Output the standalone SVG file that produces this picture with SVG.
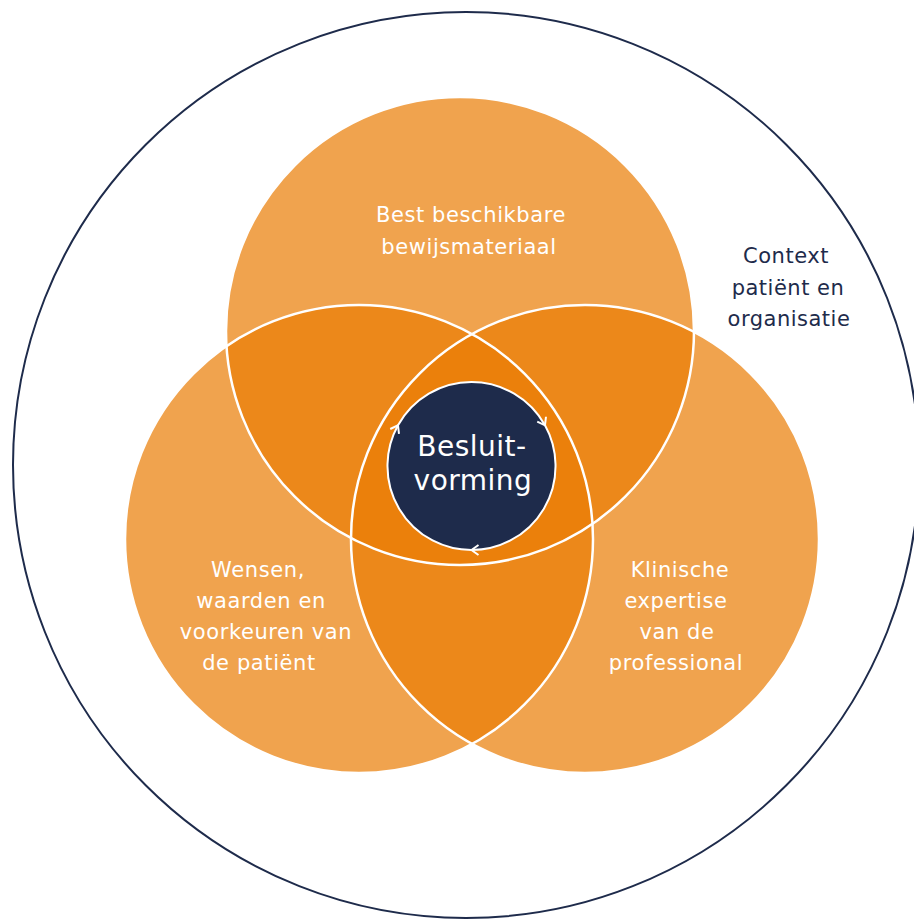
<svg xmlns="http://www.w3.org/2000/svg" width="914" height="919" viewBox="0 0 914 919">
<defs>
<style>
.fill{fill:#EA7E05;fill-opacity:0.71}
.edge{fill:none;stroke:#FFFFFF;stroke-width:2.5}
.lbl{font-family:"DejaVu Sans","Noto Sans",sans-serif;font-size:21px;fill:#FFFFFF;text-anchor:middle;letter-spacing:0.6px}
.ctx{font-family:"DejaVu Sans","Noto Sans",sans-serif;font-size:21px;fill:#1E2B4B;text-anchor:middle;letter-spacing:0.5px}
.core{font-family:"DejaVu Sans","Noto Sans",sans-serif;font-size:28px;fill:#FFFFFF;text-anchor:middle;letter-spacing:0.5px}
.ring{fill:none;stroke:#FFFFFF;stroke-width:2}
</style>
<marker id="chev" viewBox="0 0 14 14" refX="10" refY="7" markerWidth="14" markerHeight="14" markerUnits="userSpaceOnUse" orient="auto">
<path d="M3,2 L10,7 L3,12" fill="none" stroke="#FFFFFF" stroke-width="2"/>
</marker>
</defs>
<rect width="914" height="919" fill="#FFFFFF"/>
<g id="context">
<circle cx="466" cy="465" r="453" fill="none" stroke="#1E2B4B" stroke-width="2"/>
<text class="ctx" x="786" y="263">Context</text>
<text class="ctx" x="788" y="295">patiënt en</text>
<text class="ctx" x="789" y="326">organisatie</text>
</g>
<g id="fills">
<circle class="fill" cx="460" cy="331" r="234"/>
<circle class="fill" cx="359" cy="539" r="234"/>
<circle class="fill" cx="585" cy="539" r="234"/>
</g>
<g id="edges">
<circle class="edge" cx="460" cy="331" r="234"/>
<circle class="edge" cx="359" cy="539" r="234"/>
<circle class="edge" cx="585" cy="539" r="234"/>
</g>
<g id="evidence">
<text class="lbl" x="471" y="222">Best beschikbare</text>
<text class="lbl" x="469" y="254">bewijsmateriaal</text>
</g>
<g id="patient">
<text class="lbl" x="258" y="577">Wensen,</text>
<text class="lbl" x="261" y="608">waarden en</text>
<text class="lbl" x="266" y="639">voorkeuren van</text>
<text class="lbl" x="259" y="670">de patiënt</text>
</g>
<g id="professional">
<text class="lbl" x="680" y="577">Klinische</text>
<text class="lbl" x="676" y="608">expertise</text>
<text class="lbl" x="677" y="639">van de</text>
<text class="lbl" x="676" y="670">professional</text>
</g>
<g id="decision">
<circle cx="471.5" cy="466" r="84" fill="#1E2B4B"/>
<text class="core" x="472" y="456">Besluit-</text>
<text class="core" x="473" y="490">vorming</text>
</g>
<g id="connectors">
<path class="ring" d="M398,425.3 A84,84 0 0 1 545,425.3" marker-end="url(#chev)"/>
<path class="ring" d="M545,425.3 A84,84 0 0 1 471.5,550" marker-end="url(#chev)"/>
<path class="ring" d="M471.5,550 A84,84 0 0 1 398,425.3" marker-end="url(#chev)"/>
</g>
</svg>
